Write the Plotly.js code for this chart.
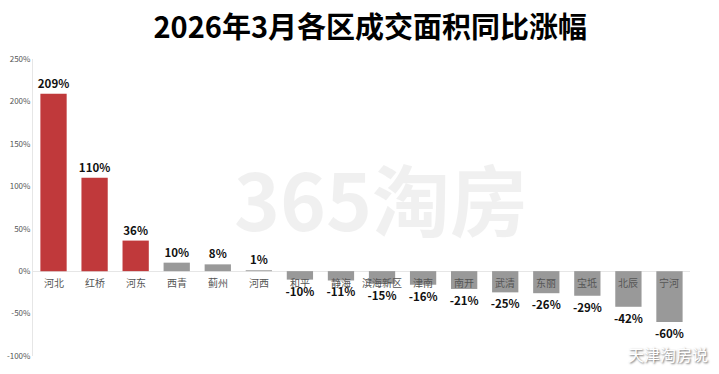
<!DOCTYPE html>
<html><head><meta charset="utf-8">
<script src="https://cdn.plot.ly/plotly-3.0.1.min.js"></script>
<style>html,body{margin:0;padding:0;background:#fff;}#c{width:719px;height:374px;}</style>
</head><body><div id="c"></div>
<script>
const districts = ['河北','红桥','河东','西青','蓟州','河西','和平','静海','滨海新区','津南','南开','武清','东丽','宝坻','北辰','宁河'];
const yoy = [209,110,36,10,8,1,-10,-11,-15,-16,-21,-25,-26,-29,-42,-60];
const yTicks = [-100,-50,0,50,100,150,200,250];

const colors = yoy.map(v => v >= 20 ? '#C0393B' : '#999999');
const font = '"Noto Sans CJK SC", "Noto Sans", sans-serif';

const trace = {
  type:'bar', x: districts, y: yoy,
  marker:{color: colors},
  width: 0.64,
  text: yoy.map(v => v + '%'),
  textposition:'outside',
  constraintext:'none',
  cliponaxis:false,
  textfont:{family:font, size:11.5, color:'#111', weight:700},
  hoverinfo:'none'
};

const ann = districts.map(d => ({
  x: d, y: 0, xref:'x', yref:'y', yanchor:'top', yshift:-2,
  text: d, showarrow:false, font:{family:font, size:10, color:'#555'}
}));
ann.push({xref:'paper', yref:'paper', x:0.53, y:0.73, text:'<b>365淘房</b>', showarrow:false,
  font:{family:font, size:78, color:'rgba(0,0,0,0.06)'}});
ann.push({xref:'paper', yref:'paper', x:1.03, y:-0.04, xanchor:'right', yanchor:'bottom', text:'天津淘房说', showarrow:false,
  font:{family:font, size:16, color:'#ffffff', shadow:'1px 1px 2px #666'}});

const layout = {
  width:719, height:374,
  margin:{l:33, r:29, t:59, b:18},
  paper_bgcolor:'#fff', plot_bgcolor:'#fff',
  title:{text:'<b>2026年3月各区成交面积同比涨幅</b>', x:0.515, xanchor:'center', y:0.925, yanchor:'middle',
    font:{family:font, size:29, color:'#000'}},
  xaxis:{type:'category', showticklabels:false, ticks:'', showgrid:false, zeroline:false, showline:false,
    range:[-0.5, 15.5]},
  yaxis:{range:[-100,250], tickvals:yTicks, ticktext:yTicks.map(v=>v+'%'), showgrid:false,
    zeroline:true, zerolinecolor:'#e6e6e6', zerolinewidth:1,
    showline:true, linecolor:'#e6e6e6', linewidth:1,
    tickfont:{family:font, size:8, color:'#555'}, ticks:'', ticklen:0},
  annotations: ann,
  showlegend:false, bargap:0.36
};
Plotly.newPlot('c',[trace],layout,{displayModeBar:false, staticPlot:true});
</script></body></html>
